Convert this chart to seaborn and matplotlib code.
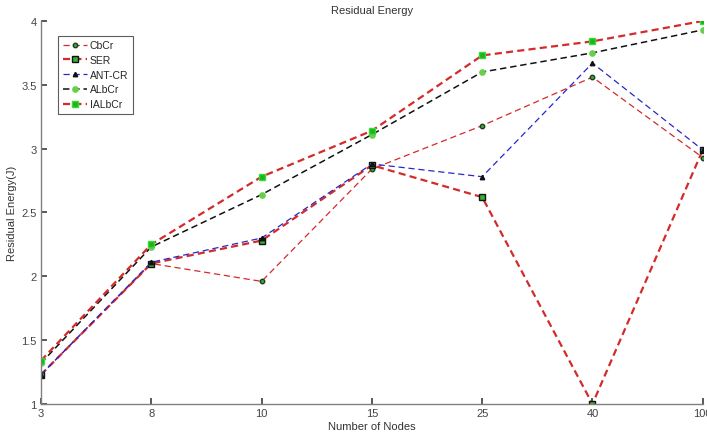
import numpy as np
import pandas as pd
import matplotlib
matplotlib.use("Agg")
import matplotlib.pyplot as plt
import seaborn as sns

categories = ["3", "8", "10", "15", "25", "40", "100"]
cbcr = [1.23, 2.10, 1.96, 2.84, 3.18, 3.56, 2.93]
ser = [1.23, 2.10, 2.28, 2.87, 2.62, 1.00, 2.99]
ant_cr = [1.23, 2.11, 2.30, 2.88, 2.78, 3.67, 2.99]
albcr = [1.32, 2.23, 2.64, 3.11, 3.60, 3.75, 3.93]
ialbcr = [1.34, 2.25, 2.78, 3.14, 3.73, 3.84, 4.00]
yticks = [1, 1.5, 2, 2.5, 3, 3.5, 4]

sns.set_theme(style="white")
plt.rcParams["font.family"] = ["Liberation Sans Narrow", "Liberation Sans", "DejaVu Sans"]

fig = plt.figure(figsize=(7.07, 4.39), dpi=100)
ax = fig.add_axes([0.058, 0.0775, 0.936, 0.8725])

pos = np.arange(len(categories))
series = [
    ("CbCr", cbcr, "#d42a2a", 0.9, "o", "#3aa83a", "#1e3d1e", 3.2, (5, 3)),
    ("SER", ser, "#d42a2a", 1.6, "s", "#2fb52f", "#111111", 4.2, (3.2, 1.9)),
    ("ANT-CR", ant_cr, "#2828c8", 0.9, "^", "#111111", "#111111", 3.2, (5, 3)),
    ("ALbCr", albcr, "#111111", 1.1, "o", "#66d04a", "#66d04a", 3.8, (4.2, 2.5)),
    ("IALbCr", ialbcr, "#d42a2a", 1.6, "s", "#22b022", "#33dd33", 4.6, (3.2, 1.9)),
]
for name, vals, col, lw, mk, mfc, mec, ms, dash in series:
    df = pd.DataFrame({"x": pos, "y": vals})
    sns.lineplot(data=df, x="x", y="y", ax=ax, color=col, lw=lw, label=name,
                 marker=mk, markerfacecolor=mfc, markeredgecolor=mec,
                 markersize=ms, markeredgewidth=1.0)
    ax.lines[-1].set_dashes(dash)

ax.set_xlim(0, len(categories) - 1)
ax.set_ylim(1, 4)
ax.set_xticks(pos)
ax.set_xticklabels(categories)
ax.set_yticks(yticks)
ax.set_yticklabels(["1", "1.5", "2", "2.5", "3", "3.5", "4"])
ax.tick_params(axis="both", labelsize=8, colors="#444444", length=4, direction="in", pad=3,
               left=True, bottom=True)
for s in ["top", "right"]:
    ax.spines[s].set_visible(False)
for s in ["left", "bottom"]:
    ax.spines[s].set_color("#808080")
    ax.spines[s].set_linewidth(1.0)
ax.set_xlabel("Number of Nodes", fontsize=8, color="#333333", labelpad=2)
ax.set_ylabel("Residual Energy(J)", fontsize=8, color="#333333", labelpad=3)
ax.set_title("Residual Energy", fontsize=8, color="#333333", pad=6)
leg = ax.legend(loc="upper left", bbox_to_anchor=(0.018, 0.975), fontsize=7.5, frameon=True,
                fancybox=False, edgecolor="#333333", handlelength=2.3, labelspacing=0.45,
                borderpad=0.45, handletextpad=0.3)
leg.get_frame().set_linewidth(0.8)
ax.grid(False)
fig.savefig("out.png", dpi=100)
